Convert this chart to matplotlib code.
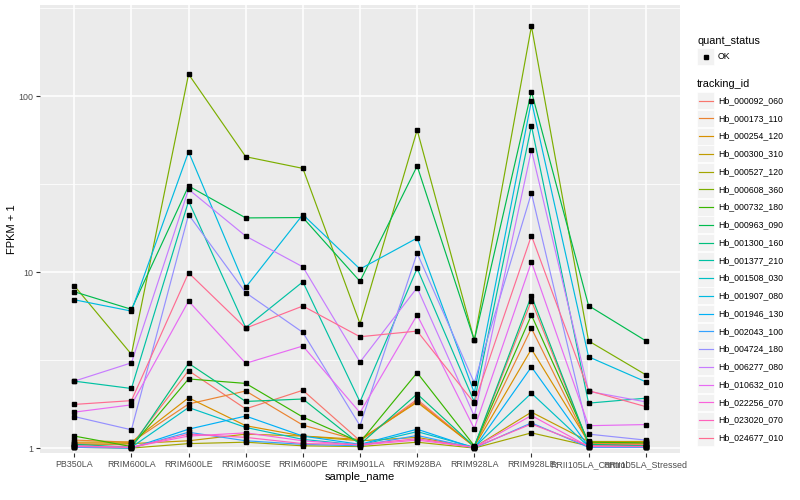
import matplotlib
matplotlib.use("Agg")
import matplotlib.pyplot as plt
from matplotlib.lines import Line2D
from matplotlib.patches import Rectangle
import numpy as np

plt.rcParams['font.family'] = ['Liberation Sans', 'DejaVu Sans']

samples = ["PB350LA", "RRIM600LA", "RRIM600LE", "RRIM600SE", "RRIM600PE",
           "RRIM901LA", "RRIM928BA", "RRIM928LA", "RRIM928LE",
           "RRII105LA_Control", "RRII105LA_Stressed"]

tracking_ids = ["Hb_000092_060", "Hb_000173_110", "Hb_000254_120", "Hb_000300_310",
                "Hb_000527_120", "Hb_000608_360", "Hb_000732_180", "Hb_000963_090",
                "Hb_001300_160", "Hb_001377_210", "Hb_001508_030", "Hb_001907_080",
                "Hb_001946_130", "Hb_002043_100", "Hb_004724_180", "Hb_006277_080",
                "Hb_010632_010", "Hb_022256_070", "Hb_023020_070", "Hb_024677_010"]

colors = ["#F8766D", "#EA8331", "#D89000", "#C09B00", "#A3A500", "#7CAE00",
          "#39B600", "#00BB4E", "#00BF7D", "#00C1A3", "#00BFC4", "#00BAE0",
          "#00B0F6", "#35A2FF", "#9590FF", "#C77CFF", "#E76BF3", "#FA62DB",
          "#FF62BC", "#FF6C91"]

v_000092_060 = [1.06, 1.04, 2.75, 1.67, 2.13, 1.10, 1.89, 1.02, 6.87, 1.05, 1.05]
v_000173_110 = [1.11, 1.08, 1.78, 2.11, 1.35, 1.10, 1.85, 1.02, 4.79, 1.06, 1.06]
v_000254_120 = [1.08, 1.08, 1.93, 1.34, 1.17, 1.12, 1.82, 1.02, 3.65, 1.08, 1.08]
v_000300_310 = [1.05, 1.06, 1.10, 1.20, 1.17, 1.10, 1.15, 1.01, 1.60, 1.09, 1.09]
v_000527_120 = [1.01, 1.00, 1.06, 1.08, 1.03, 1.02, 1.08, 1.00, 1.22, 1.03, 1.03]
v_000608_360 = [8.36, 3.41, 133.0, 45.2, 38.8, 5.09, 64.1, 4.10, 249.0, 4.06, 2.61]
v_000732_180 = [1.17, 1.02, 2.47, 2.33, 1.50, 1.08, 2.68, 1.03, 5.70, 1.08, 1.07]
v_000963_090 = [7.73, 6.14, 30.8, 20.3, 20.4, 8.85, 40.0, 4.10, 106.0, 6.44, 4.07]
v_001300_160 = [1.05, 1.01, 3.03, 1.84, 1.90, 1.05, 2.03, 1.02, 7.33, 1.05, 1.03]
v_001377_210 = [2.40, 2.18, 25.3, 4.83, 8.80, 1.83, 10.5, 1.83, 67.8, 1.80, 1.92]
v_001508_030 = [1.03, 1.01, 1.70, 1.31, 1.12, 1.04, 1.24, 1.01, 2.05, 1.02, 1.02]
v_001907_080 = [6.96, 6.00, 48.2, 8.19, 21.2, 10.4, 15.6, 2.06, 93.7, 3.30, 2.38]
v_001946_130 = [1.02, 1.00, 1.28, 1.52, 1.17, 1.05, 1.28, 1.00, 2.89, 1.02, 1.02]
v_002043_100 = [1.01, 1.00, 1.23, 1.10, 1.05, 1.03, 1.18, 1.00, 1.39, 1.01, 1.01]
v_004724_180 = [1.51, 1.27, 21.2, 7.63, 4.54, 1.34, 12.8, 2.35, 28.1, 1.20, 1.11]
v_006277_080 = [2.40, 3.05, 29.5, 16.0, 10.7, 3.08, 8.15, 1.52, 49.3, 2.10, 1.83]
v_010632_010 = [1.60, 1.76, 6.84, 3.03, 3.80, 1.59, 5.70, 1.29, 11.4, 1.34, 1.36]
v_022256_070 = [1.02, 1.01, 1.17, 1.22, 1.10, 1.04, 1.11, 1.01, 1.53, 1.02, 1.02]
v_023020_070 = [1.03, 1.01, 1.20, 1.15, 1.06, 1.05, 1.13, 1.01, 1.37, 1.03, 1.02]
v_024677_010 = [1.77, 1.86, 9.90, 4.80, 6.41, 4.29, 4.62, 1.80, 16.1, 2.12, 1.72]

series = [v_000092_060, v_000173_110, v_000254_120, v_000300_310, v_000527_120,
          v_000608_360, v_000732_180, v_000963_090, v_001300_160, v_001377_210,
          v_001508_030, v_001907_080, v_001946_130, v_002043_100, v_004724_180,
          v_006277_080, v_010632_010, v_022256_070, v_023020_070, v_024677_010]

W, H = 800, 500
fig = plt.figure(figsize=(8, 5), dpi=100)
L, R, T, B = 40, 680, 5, 453
ax = fig.add_axes([L / W, 1 - B / H, (R - L) / W, (B - T) / H])
ax.set_facecolor("#EBEBEB")

x = np.arange(len(samples))
for vals, c in zip(series, colors):
    ax.plot(x, vals, color=c, lw=0.85, zorder=3)
for vals in series:
    ax.plot(x, vals, ls='none', marker='s', ms=2.6, color='black', zorder=4)

ax.set_yscale('log')
ax.set_ylim(10 ** -0.028, 10 ** 2.517)
ax.set_xlim(-0.6, len(samples) - 1 + 0.6)

ax.set_yticks([1, 10, 100])
ax.set_yticklabels(["1", "10", "100"])
ax.set_yticks([10 ** 0.5, 10 ** 1.5, 10 ** 2.5], minor=True)
ax.yaxis.set_minor_formatter(plt.NullFormatter())
ax.set_xticks(x)
ax.set_xticklabels(samples)

ax.grid(which='major', color='white', lw=1.1, zorder=0)
ax.grid(which='minor', axis='y', color='white', lw=0.55, zorder=0)
ax.set_axisbelow(True)
for s in ax.spines.values():
    s.set_visible(False)
ax.tick_params(axis='both', which='major', length=3, width=0.8, color='#333333',
               labelsize=6.4, labelcolor='#4D4D4D', pad=2)
ax.tick_params(axis='y', which='minor', length=0)

ax.set_xlabel("sample_name", fontsize=8, color='black', labelpad=2)
ax.set_ylabel("FPKM + 1", fontsize=8, color='black', labelpad=1)

def fx(px):
    return px / W

def fy(py):
    return 1 - py / H

key = 17.0
kx = 697
fig.text(fx(kx), fy(40.5), "quant_status", fontsize=7.8, va='center', ha='left')
ky = 56.7
fig.patches.append(Rectangle((fx(kx), fy(ky + key / 2)), key / W, key / H,
                             transform=fig.transFigure, facecolor='#F2F2F2',
                             edgecolor='white', lw=0.5))
fig.lines.append(Line2D([fx(kx + key / 2)], [fy(ky)], transform=fig.transFigure,
                        marker='s', ms=2.6, color='black', ls='none'))
fig.text(fx(kx + key + 4), fy(ky), "OK", fontsize=6.3, va='center', ha='left')

fig.text(fx(kx), fy(84), "tracking_id", fontsize=7.8, va='center', ha='left')
y0 = 100.7
step = 17.75
for i, (tid, c) in enumerate(zip(tracking_ids, colors)):
    yy = y0 + i * step
    fig.patches.append(Rectangle((fx(kx), fy(yy + key / 2)), key / W, key / H,
                                 transform=fig.transFigure, facecolor='#F2F2F2',
                                 edgecolor='white', lw=0.5))
    fig.lines.append(Line2D([fx(kx + 1.5), fx(kx + key - 1.5)], [fy(yy), fy(yy)],
                            transform=fig.transFigure, color=c, lw=0.85))
    fig.text(fx(kx + key + 4), fy(yy), tid, fontsize=6.3, va='center', ha='left')

fig.savefig("out.png", dpi=100)
